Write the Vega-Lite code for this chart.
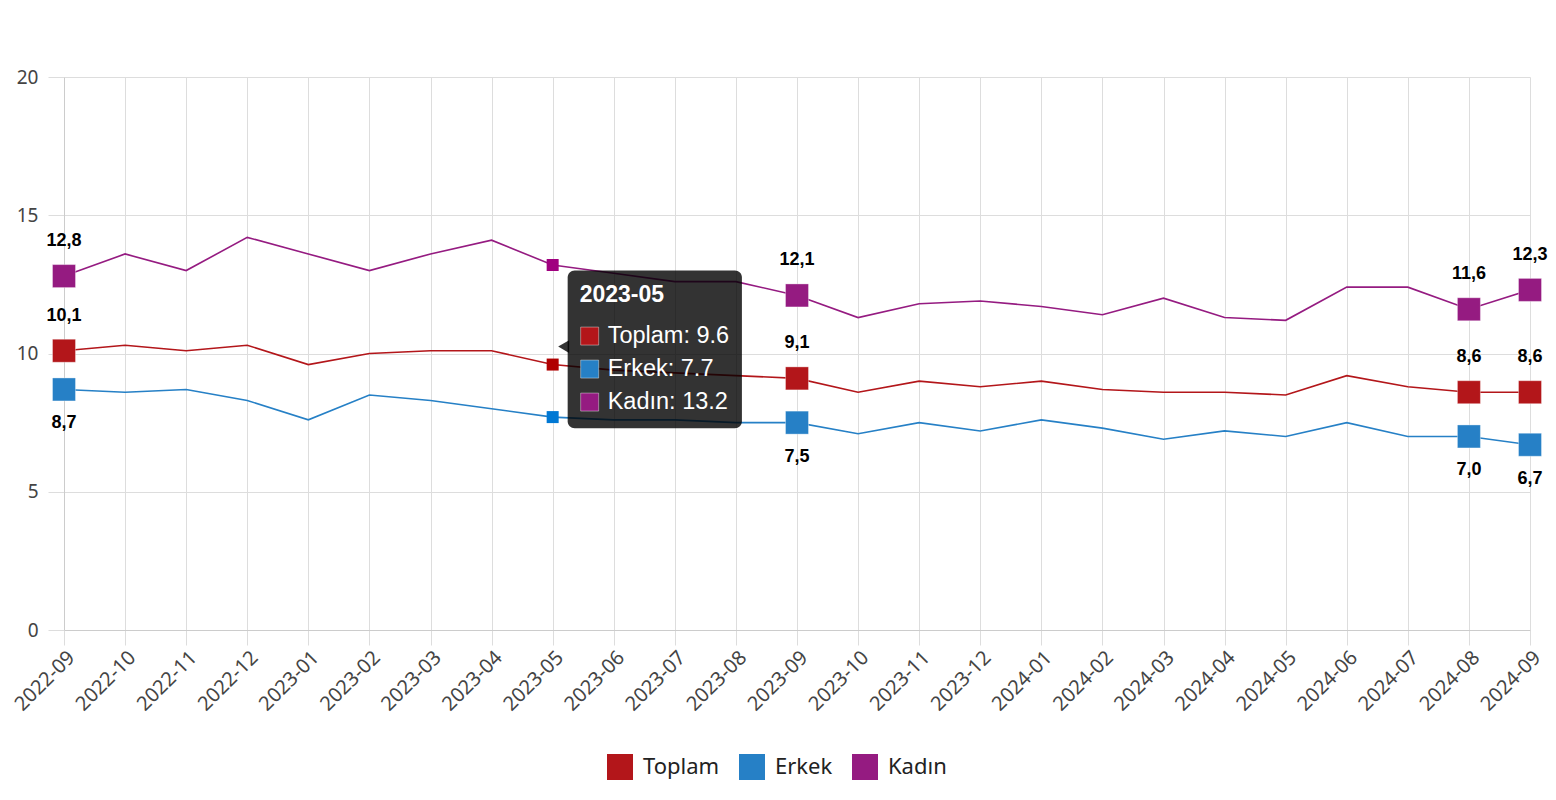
{
  "$schema": "https://vega.github.io/schema/vega-lite/v6.json",
  "autosize": {"type": "none"},
  "width": 1466,
  "height": 553,
  "padding": {"left": 64, "top": 77, "right": 26, "bottom": 170},
  "background": "#ffffff",
  "config": {
    "view": {"stroke": null},
    "axis": {
      "labelFont": "Noto Sans",
      "labelFontSize": 19,
      "labelColor": "#444444",
      "gridColor": "#dddddd",
      "gridWidth": 1,
      "domainColor": "#cccccc",
      "tickColor": "#dddddd",
      "title": null
    },
    "legend": {
      "labelFont": "Noto Sans",
      "labelFontSize": 22,
      "labelColor": "#222222"
    }
  },
  "datasets": {
    "rates": [
      {"month": "2022-09", "series": "Toplam", "value": 10.1},
      {"month": "2022-10", "series": "Toplam", "value": 10.3},
      {"month": "2022-11", "series": "Toplam", "value": 10.1},
      {"month": "2022-12", "series": "Toplam", "value": 10.3},
      {"month": "2023-01", "series": "Toplam", "value": 9.6},
      {"month": "2023-02", "series": "Toplam", "value": 10.0},
      {"month": "2023-03", "series": "Toplam", "value": 10.1},
      {"month": "2023-04", "series": "Toplam", "value": 10.1},
      {"month": "2023-05", "series": "Toplam", "value": 9.6},
      {"month": "2023-06", "series": "Toplam", "value": 9.4},
      {"month": "2023-07", "series": "Toplam", "value": 9.3},
      {"month": "2023-08", "series": "Toplam", "value": 9.2},
      {"month": "2023-09", "series": "Toplam", "value": 9.1},
      {"month": "2023-10", "series": "Toplam", "value": 8.6},
      {"month": "2023-11", "series": "Toplam", "value": 9.0},
      {"month": "2023-12", "series": "Toplam", "value": 8.8},
      {"month": "2024-01", "series": "Toplam", "value": 9.0},
      {"month": "2024-02", "series": "Toplam", "value": 8.7},
      {"month": "2024-03", "series": "Toplam", "value": 8.6},
      {"month": "2024-04", "series": "Toplam", "value": 8.6},
      {"month": "2024-05", "series": "Toplam", "value": 8.5},
      {"month": "2024-06", "series": "Toplam", "value": 9.2},
      {"month": "2024-07", "series": "Toplam", "value": 8.8},
      {"month": "2024-08", "series": "Toplam", "value": 8.6},
      {"month": "2024-09", "series": "Toplam", "value": 8.6},
      {"month": "2022-09", "series": "Erkek", "value": 8.7},
      {"month": "2022-10", "series": "Erkek", "value": 8.6},
      {"month": "2022-11", "series": "Erkek", "value": 8.7},
      {"month": "2022-12", "series": "Erkek", "value": 8.3},
      {"month": "2023-01", "series": "Erkek", "value": 7.6},
      {"month": "2023-02", "series": "Erkek", "value": 8.5},
      {"month": "2023-03", "series": "Erkek", "value": 8.3},
      {"month": "2023-04", "series": "Erkek", "value": 8.0},
      {"month": "2023-05", "series": "Erkek", "value": 7.7},
      {"month": "2023-06", "series": "Erkek", "value": 7.6},
      {"month": "2023-07", "series": "Erkek", "value": 7.6},
      {"month": "2023-08", "series": "Erkek", "value": 7.5},
      {"month": "2023-09", "series": "Erkek", "value": 7.5},
      {"month": "2023-10", "series": "Erkek", "value": 7.1},
      {"month": "2023-11", "series": "Erkek", "value": 7.5},
      {"month": "2023-12", "series": "Erkek", "value": 7.2},
      {"month": "2024-01", "series": "Erkek", "value": 7.6},
      {"month": "2024-02", "series": "Erkek", "value": 7.3},
      {"month": "2024-03", "series": "Erkek", "value": 6.9},
      {"month": "2024-04", "series": "Erkek", "value": 7.2},
      {"month": "2024-05", "series": "Erkek", "value": 7.0},
      {"month": "2024-06", "series": "Erkek", "value": 7.5},
      {"month": "2024-07", "series": "Erkek", "value": 7.0},
      {"month": "2024-08", "series": "Erkek", "value": 7.0},
      {"month": "2024-09", "series": "Erkek", "value": 6.7},
      {"month": "2022-09", "series": "Kadın", "value": 12.8},
      {"month": "2022-10", "series": "Kadın", "value": 13.6},
      {"month": "2022-11", "series": "Kadın", "value": 13.0},
      {"month": "2022-12", "series": "Kadın", "value": 14.2},
      {"month": "2023-01", "series": "Kadın", "value": 13.6},
      {"month": "2023-02", "series": "Kadın", "value": 13.0},
      {"month": "2023-03", "series": "Kadın", "value": 13.6},
      {"month": "2023-04", "series": "Kadın", "value": 14.1},
      {"month": "2023-05", "series": "Kadın", "value": 13.2},
      {"month": "2023-06", "series": "Kadın", "value": 12.9},
      {"month": "2023-07", "series": "Kadın", "value": 12.6},
      {"month": "2023-08", "series": "Kadın", "value": 12.6},
      {"month": "2023-09", "series": "Kadın", "value": 12.1},
      {"month": "2023-10", "series": "Kadın", "value": 11.3},
      {"month": "2023-11", "series": "Kadın", "value": 11.8},
      {"month": "2023-12", "series": "Kadın", "value": 11.9},
      {"month": "2024-01", "series": "Kadın", "value": 11.7},
      {"month": "2024-02", "series": "Kadın", "value": 11.4},
      {"month": "2024-03", "series": "Kadın", "value": 12.0},
      {"month": "2024-04", "series": "Kadın", "value": 11.3},
      {"month": "2024-05", "series": "Kadın", "value": 11.2},
      {"month": "2024-06", "series": "Kadın", "value": 12.4},
      {"month": "2024-07", "series": "Kadın", "value": 12.4},
      {"month": "2024-08", "series": "Kadın", "value": 11.6},
      {"month": "2024-09", "series": "Kadın", "value": 12.3}
    ]
  },
  "data": {"name": "rates"},
  "layer": [
    {
      "mark": {"type": "line", "strokeWidth": 1.6},
      "encoding": {
        "x": {
          "field": "month", "type": "ordinal",
          "scale": {"type": "point", "padding": 0},
          "axis": {"labelAngle": -45, "labelAlign": "right", "labelBaseline": "top", "labelFontSize": 20, "tickSize": 15, "labelPadding": 2, "grid": true, "domainColor": "#cccccc"}
        },
        "y": {
          "field": "value", "type": "quantitative",
          "scale": {"domain": [0, 20], "nice": false},
          "axis": {"values": [0, 5, 10, 15, 20], "tickSize": 16, "labelPadding": 10, "grid": true}
        },
        "color": {
          "field": "series", "type": "nominal",
          "scale": {"domain": ["Toplam", "Erkek", "Kadın"], "range": ["#b3161a", "#2680c6", "#951b81"]},
          "legend": {
            "title": null, "orient": "none", "direction": "horizontal",
            "legendX": 543, "legendY": 677,
            "symbolType": "square", "symbolSize": 676, "symbolStrokeWidth": 0, "symbolOpacity": 1,
            "labelOffset": 10, "columnPadding": 19, "padding": 0
          }
        }
      }
    },
    {
      "transform": [{"filter": {"field": "month", "oneOf": ["2022-09", "2023-09", "2024-08", "2024-09"]}}],
      "mark": {"type": "point", "shape": "square", "filled": true, "size": 529, "opacity": 1, "stroke": "#ffffff", "strokeOpacity": 0.35, "strokeWidth": 1},
      "encoding": {
        "x": {"field": "month", "type": "ordinal"},
        "y": {"field": "value", "type": "quantitative"},
        "color": {"field": "series", "type": "nominal"}
      }
    },
    {
      "transform": [
        {"filter": {"field": "month", "oneOf": ["2022-09", "2023-09", "2024-08", "2024-09"]}},
        {"filter": "datum.series !== 'Erkek'"},
        {"calculate": "replace(format(datum.value, '.1f'), '.', ',')", "as": "lbl"}
      ],
      "mark": {"type": "text", "font": "Liberation Sans", "fontWeight": "bold", "fontSize": 18, "color": "#000000", "dy": -35, "baseline": "middle"},
      "encoding": {
        "x": {"field": "month", "type": "ordinal"},
        "y": {"field": "value", "type": "quantitative"},
        "text": {"field": "lbl"}
      }
    },
    {
      "transform": [
        {"filter": {"field": "month", "oneOf": ["2022-09", "2023-09", "2024-08", "2024-09"]}},
        {"filter": "datum.series === 'Erkek'"},
        {"calculate": "replace(format(datum.value, '.1f'), '.', ',')", "as": "lbl"}
      ],
      "mark": {"type": "text", "font": "Liberation Sans", "fontWeight": "bold", "fontSize": 18, "color": "#000000", "dy": 34, "baseline": "middle"},
      "encoding": {
        "x": {"field": "month", "type": "ordinal"},
        "y": {"field": "value", "type": "quantitative"},
        "text": {"field": "lbl"}
      }
    },
    {
      "transform": [{"filter": "datum.month === '2023-05'"}],
      "mark": {"type": "point", "shape": "square", "filled": true, "size": 144, "opacity": 1},
      "encoding": {
        "x": {"field": "month", "type": "ordinal"},
        "y": {"field": "value", "type": "quantitative"},
        "fill": {
          "condition": [
            {"test": "datum.series === 'Toplam'", "value": "#b00000"},
            {"test": "datum.series === 'Erkek'", "value": "#0078d4"}
          ],
          "value": "#a0007f"
        }
      }
    },
    {
      "transform": [{"filter": "datum.month === '2023-05' && datum.series === 'Toplam'"}],
      "mark": {"type": "rect", "fill": "#000000", "fillOpacity": 0.8, "cornerRadius": 7, "xOffset": 15, "x2Offset": 6},
      "encoding": {
        "x": {"datum": "2023-05", "type": "ordinal"},
        "x2": {"datum": "2023-08"},
        "y": {"datum": 13.0, "type": "quantitative"},
        "y2": {"datum": 7.3}
      }
    },
    {
      "transform": [{"filter": "datum.month === '2023-05' && datum.series === 'Toplam'"}],
      "mark": {"type": "point", "shape": "triangle-left", "filled": true, "fill": "#000000", "fillOpacity": 0.8, "size": 160, "xOffset": 11, "opacity": 1},
      "encoding": {
        "x": {"datum": "2023-05", "type": "ordinal"},
        "y": {"datum": 10.25, "type": "quantitative"}
      }
    },
    {
      "transform": [{"filter": "datum.month === '2023-05' && datum.series === 'Toplam'"}],
      "mark": {"type": "text", "font": "Liberation Sans", "fontWeight": "bold", "fontSize": 23, "color": "#ffffff", "align": "left", "baseline": "middle", "xOffset": 27},
      "encoding": {
        "x": {"field": "month", "type": "ordinal"},
        "y": {"datum": 12.12, "type": "quantitative"},
        "text": {"field": "month"}
      }
    },
    {
      "transform": [{"filter": "datum.month === '2023-05'"}],
      "mark": {"type": "point", "shape": "square", "filled": true, "size": 324, "xOffset": 37, "opacity": 1, "stroke": "#ffffff", "strokeOpacity": 0.4, "strokeWidth": 1},
      "encoding": {
        "x": {"field": "month", "type": "ordinal"},
        "y": {"datum": 10.63, "type": "quantitative"},
        "yOffset": {"field": "series", "type": "nominal", "scale": {"type": "point", "domain": ["Toplam", "Erkek", "Kadın"], "range": [0, 66], "padding": 0}},
        "color": {"field": "series", "type": "nominal"}
      }
    },
    {
      "transform": [
        {"filter": "datum.month === '2023-05'"},
        {"calculate": "datum.series + ': ' + format(datum.value, '.1f')", "as": "tip"}
      ],
      "mark": {"type": "text", "font": "Liberation Sans", "fontSize": 23.5, "color": "#ffffff", "align": "left", "baseline": "middle", "xOffset": 55},
      "encoding": {
        "x": {"field": "month", "type": "ordinal"},
        "y": {"datum": 10.63, "type": "quantitative"},
        "yOffset": {"field": "series", "type": "nominal", "scale": {"type": "point", "domain": ["Toplam", "Erkek", "Kadın"], "range": [0, 66], "padding": 0}},
        "text": {"field": "tip"}
      }
    }
  ]
}
